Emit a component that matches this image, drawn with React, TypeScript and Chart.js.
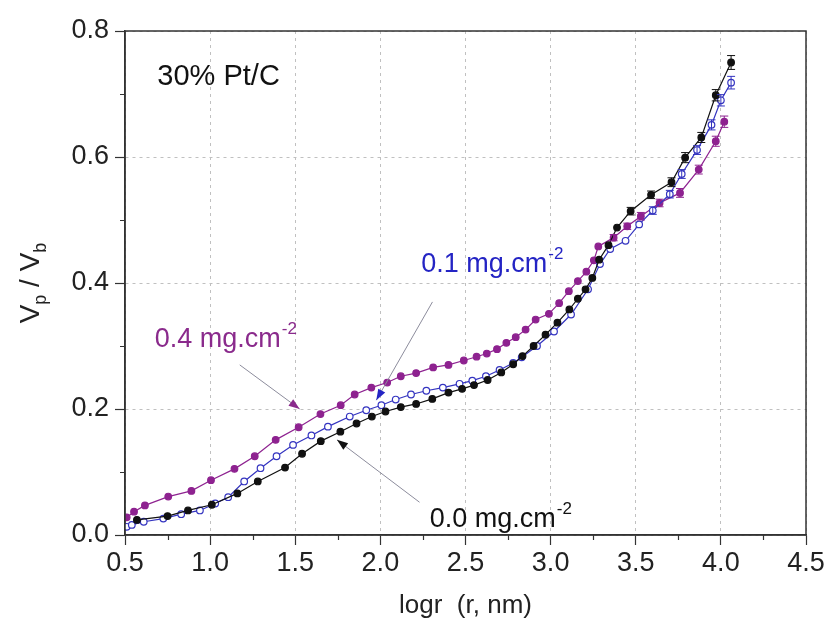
import React, { useEffect, useRef } from 'react';
import { Chart, registerables } from 'chart.js';
Chart.register(...registerables);

// ---- data ----
const xTickValues = [0.5, 1.0, 1.5, 2.0, 2.5, 3.0, 3.5, 4.0, 4.5];
const yTickValues = [0.0, 0.2, 0.4, 0.6, 0.8];
const xMinorValues = [0.75, 1.25, 1.75, 2.25, 2.75, 3.25, 3.75, 4.25];
const yMinorValues = [0.1, 0.3, 0.5, 0.7];

const blackX = [0.57, 0.75, 0.87, 1.01, 1.16, 1.28, 1.44, 1.54, 1.65, 1.765, 1.86, 1.95, 2.03, 2.12, 2.21, 2.305, 2.40, 2.48, 2.55, 2.63, 2.71, 2.78, 2.835, 2.90, 2.97, 3.04, 3.11, 3.16, 3.205, 3.245, 3.285, 3.34, 3.39, 3.47, 3.59, 3.71, 3.79, 3.885, 3.97, 4.06];
const blackY = [0.024, 0.030, 0.039, 0.048, 0.066, 0.085, 0.107, 0.129, 0.149, 0.164, 0.177, 0.188, 0.196, 0.203, 0.208, 0.216, 0.226, 0.232, 0.238, 0.246, 0.258, 0.271, 0.284, 0.300, 0.318, 0.337, 0.358, 0.375, 0.390, 0.408, 0.437, 0.460, 0.488, 0.514, 0.540, 0.560, 0.599, 0.631, 0.698, 0.750];
const blackErr = [0, 0, 0, 0, 0, 0, 0, 0, 0, 0, 0, 0, 0, 0, 0, 0, 0, 0, 0, 0, 0, 0, 0, 0, 0, 0, 0, 0, 0, 0, 0, 0, 0, 0.006, 0.006, 0.007, 0.008, 0.008, 0.009, 0.011];

const blueX = [0.51, 0.54, 0.61, 0.725, 0.83, 0.94, 1.03, 1.106, 1.20, 1.296, 1.39, 1.487, 1.595, 1.692, 1.82, 1.917, 2.006, 2.09, 2.18, 2.27, 2.367, 2.465, 2.54, 2.62, 2.70, 2.78, 2.83, 2.92, 3.02, 3.12, 3.22, 3.29, 3.35, 3.44, 3.52, 3.60, 3.70, 3.77, 3.86, 3.945, 4.0, 4.06];
const blueY = [0.013, 0.016, 0.021, 0.026, 0.033, 0.039, 0.050, 0.060, 0.085, 0.106, 0.125, 0.143, 0.158, 0.172, 0.188, 0.198, 0.206, 0.215, 0.223, 0.229, 0.234, 0.240, 0.245, 0.252, 0.262, 0.273, 0.282, 0.300, 0.323, 0.350, 0.390, 0.430, 0.454, 0.467, 0.493, 0.515, 0.541, 0.573, 0.611, 0.651, 0.690, 0.718];
const blueErr = [0, 0, 0, 0, 0, 0, 0, 0, 0, 0, 0, 0, 0, 0, 0, 0, 0, 0, 0, 0, 0, 0, 0, 0, 0, 0, 0, 0, 0, 0, 0, 0, 0, 0, 0, 0.006, 0.006, 0.007, 0.007, 0.008, 0.009, 0.010];

const purpleX = [0.51, 0.553, 0.617, 0.754, 0.89, 1.005, 1.143, 1.262, 1.385, 1.52, 1.648, 1.767, 1.849, 1.947, 2.04, 2.12, 2.21, 2.31, 2.40, 2.49, 2.565, 2.625, 2.685, 2.74, 2.795, 2.853, 2.912, 2.99, 3.05, 3.107, 3.16, 3.21, 3.254, 3.28, 3.37, 3.45, 3.53, 3.64, 3.76, 3.87, 3.97, 4.02];
const purpleY = [0.028, 0.037, 0.047, 0.061, 0.070, 0.087, 0.105, 0.125, 0.151, 0.171, 0.192, 0.206, 0.223, 0.234, 0.242, 0.252, 0.257, 0.266, 0.270, 0.277, 0.283, 0.288, 0.295, 0.305, 0.314, 0.326, 0.342, 0.351, 0.368, 0.387, 0.403, 0.418, 0.436, 0.458, 0.472, 0.490, 0.506, 0.527, 0.543, 0.580, 0.625, 0.656];
const purpleErr = [0, 0, 0, 0, 0, 0, 0, 0, 0, 0, 0, 0, 0, 0, 0, 0, 0, 0, 0, 0, 0, 0, 0, 0, 0, 0, 0, 0, 0, 0, 0, 0, 0, 0, 0.005, 0.005, 0.006, 0.006, 0.007, 0.007, 0.008, 0.009];

const seriesNames = ['0.0 mg.cm-2', '0.1 mg.cm-2', '0.4 mg.cm-2'];

// annotations (data coordinates)
const annoTitle = { text: '30% Pt/C', x: 0.69, y: 0.714 };
const annoLabels = [
  { main: '0.4 mg.cm', sup: '-2', x: 0.675, y: 0.299, color: '#8a2a8c' },
  { main: '0.1 mg.cm', sup: '-2', x: 2.24, y: 0.418, color: '#2424c4' },
  { main: '0.0 mg.cm', sup: '-2', x: 2.29, y: 0.013, color: '#111111' },
];
const annoArrows = [
  { x1: 1.174, y1: 0.270, x2: 1.526, y2: 0.200, head: '#8a2a8c' },
  { x1: 2.306, y1: 0.370, x2: 1.976, y2: 0.214, head: '#2424c4' },
  { x1: 2.23, y1: 0.052, x2: 1.745, y2: 0.151, head: '#111111' },
];

const FONT = '"Liberation Sans", Arial, sans-serif';
const AXIS = '#333333';
const BLACK = '#111111';
const BLUE = '#3434c0';
const PURPLE = '#8e2290';

const toPts = (xs: number[], ys: number[]) => xs.map((x, i) => ({ x, y: ys[i] }));

const decorPlugin = {
  id: 'decor',
  afterDatasetsDraw(chart: any) {
    const { ctx } = chart;
    const errs = [blackErr, blueErr, purpleErr];
    const cols = [BLACK, BLUE, PURPLE];
    const ys = chart.scales.y;
    chart.data.datasets.forEach((ds: any, di: number) => {
      const meta = chart.getDatasetMeta(di);
      ctx.save();
      ctx.strokeStyle = cols[di];
      ctx.lineWidth = 1;
      meta.data.forEach((pt: any, i: number) => {
        const e = errs[di][i];
        if (!e) return;
        const v = ds.data[i].y;
        const yt = ys.getPixelForValue(v + e);
        const yb = ys.getPixelForValue(v - e);
        ctx.beginPath();
        ctx.moveTo(pt.x, yt); ctx.lineTo(pt.x, yb);
        ctx.moveTo(pt.x - 4, yt); ctx.lineTo(pt.x + 4, yt);
        ctx.moveTo(pt.x - 4, yb); ctx.lineTo(pt.x + 4, yb);
        ctx.stroke();
      });
      ctx.restore();
    });
  },
  afterDraw(chart: any) {
    const { ctx, chartArea: a, scales } = chart;
    const x = scales.x, y = scales.y;
    ctx.save();
    // frame
    ctx.strokeStyle = AXIS;
    ctx.lineWidth = 1.5;
    ctx.strokeRect(a.left, a.top, a.right - a.left, a.bottom - a.top);
    // minor ticks
    ctx.lineWidth = 1.2;
    ctx.beginPath();
    xMinorValues.forEach((v) => {
      const px = Math.round(x.getPixelForValue(v)) + 0.5;
      ctx.moveTo(px, a.bottom); ctx.lineTo(px, a.bottom + 5);
    });
    yMinorValues.forEach((v) => {
      const py = Math.round(y.getPixelForValue(v)) + 0.5;
      ctx.moveTo(a.left, py); ctx.lineTo(a.left - 5, py);
    });
    ctx.stroke();

    // arrows
    annoArrows.forEach((ar) => {
      const x1 = x.getPixelForValue(ar.x1), y1 = y.getPixelForValue(ar.y1);
      const x2 = x.getPixelForValue(ar.x2), y2 = y.getPixelForValue(ar.y2);
      ctx.strokeStyle = '#8c8c9c';
      ctx.lineWidth = 1;
      ctx.beginPath(); ctx.moveTo(x1, y1); ctx.lineTo(x2, y2); ctx.stroke();
      const ang = Math.atan2(y2 - y1, x2 - x1);
      const L = 11, W = 4;
      ctx.fillStyle = ar.head;
      ctx.beginPath();
      ctx.moveTo(x2, y2);
      ctx.lineTo(x2 - L * Math.cos(ang) + W * Math.sin(ang), y2 - L * Math.sin(ang) - W * Math.cos(ang));
      ctx.lineTo(x2 - L * Math.cos(ang) - W * Math.sin(ang), y2 - L * Math.sin(ang) + W * Math.cos(ang));
      ctx.closePath(); ctx.fill();
    });

    // labels
    ctx.textBaseline = 'alphabetic';
    ctx.textAlign = 'left';
    annoLabels.forEach((lb) => {
      const px = x.getPixelForValue(lb.x), py = y.getPixelForValue(lb.y);
      ctx.fillStyle = lb.color;
      ctx.font = `27px ${FONT}`;
      ctx.fillText(lb.main, px, py);
      const w = ctx.measureText(lb.main).width;
      ctx.font = `17px ${FONT}`;
      ctx.fillText(lb.sup, px + w + 1, py - 13);
    });
    ctx.fillStyle = '#111';
    ctx.font = `29px ${FONT}`;
    ctx.fillText(annoTitle.text, x.getPixelForValue(annoTitle.x), y.getPixelForValue(annoTitle.y));

    // x title
    ctx.textAlign = 'center';
    ctx.font = `26px ${FONT}`;
    ctx.fillStyle = '#222';
    ctx.fillText('logr  (r, nm)', (a.left + a.right) / 2, a.bottom + 78);

    // y title with subscripts
    ctx.translate(30, (a.top + a.bottom) / 2);
    ctx.rotate(-Math.PI / 2);
    const parts: [string, number, number][] = [['V', 28, 0], ['p', 18, 7], [' / V', 28, 0], ['b', 18, 7]];
    let total = 0;
    parts.forEach(([t, s]) => { ctx.font = `${s}px ${FONT}`; total += ctx.measureText(t).width; });
    let cx = -total / 2;
    ctx.textAlign = 'left';
    parts.forEach(([t, s, dy]) => {
      ctx.font = `${s}px ${FONT}`;
      ctx.fillText(t, cx, 9 + dy);
      cx += ctx.measureText(t).width;
    });
    ctx.restore();
  },
};

export default function App() {
  const ref = useRef<HTMLCanvasElement | null>(null);
  useEffect(() => {
    document.body.style.margin = '0';
    if (!ref.current) return;
    const mk = (label: string, xs: number[], ys: number[], color: string, fill: string) => ({
      label,
      data: toPts(xs, ys),
      showLine: true,
      borderColor: color,
      borderWidth: 1.2,
      pointBackgroundColor: fill,
      pointBorderColor: color,
      pointBorderWidth: 1.2,
      pointRadius: 3.3,
      pointStyle: 'circle',
      tension: 0,
    });
    const chart = new Chart(ref.current, {
      type: 'scatter',
      data: {
        datasets: [
          mk(seriesNames[0], blackX, blackY, BLACK, BLACK),
          mk(seriesNames[1], blueX, blueY, BLUE, '#ffffff'),
          mk(seriesNames[2], purpleX, purpleY, PURPLE, PURPLE),
        ],
      },
      options: {
        responsive: false,
        animation: false,
        events: [],
        layout: { padding: { left: 0, right: 21, top: 31, bottom: 0 } },
        plugins: { legend: { display: false }, title: { display: false }, tooltip: { enabled: false } },
        scales: {
          x: {
            type: 'linear',
            min: 0.5,
            max: 4.5,
            afterBuildTicks: (s: any) => { s.ticks = xTickValues.map((v) => ({ value: v })); },
            afterFit: (s: any) => { s.height = 89; },
            ticks: {
              callback: (v: any) => Number(v).toFixed(1),
              font: { family: FONT, size: 27 },
              color: '#222',
              padding: 2,
              maxRotation: 0,
              autoSkip: false,
            },
            grid: { color: '#c0c0c0', lineWidth: 1, tickColor: AXIS, tickLength: 10, tickWidth: 1.2 },
            border: { display: true, color: AXIS, width: 1.5, dash: [3, 4] },
          },
          y: {
            type: 'linear',
            min: 0,
            max: 0.8,
            afterBuildTicks: (s: any) => { s.ticks = yTickValues.map((v) => ({ value: v })); },
            afterFit: (s: any) => { s.width = 125; },
            ticks: {
              callback: (v: any) => Number(v).toFixed(1),
              font: { family: FONT, size: 27 },
              color: '#222',
              padding: 6,
            },
            grid: { color: '#c0c0c0', lineWidth: 1, tickColor: AXIS, tickLength: 10, tickWidth: 1.2 },
            border: { display: true, color: AXIS, width: 1.5, dash: [3, 4] },
          },
        },
      },
      plugins: [decorPlugin],
    } as any);
    return () => chart.destroy();
  }, []);
  return <canvas ref={ref} width={827} height={624} style={{ display: 'block' }} />;
}
